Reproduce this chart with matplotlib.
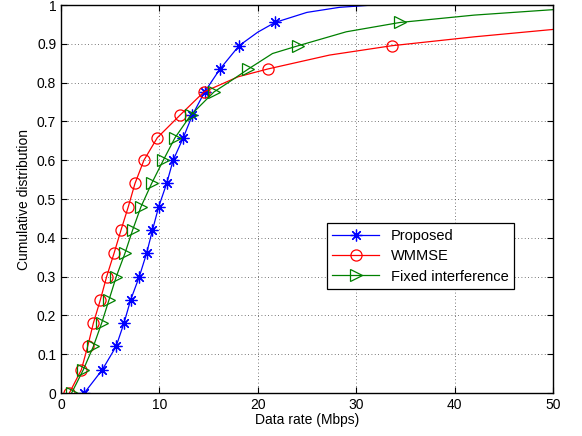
import matplotlib.pyplot as plt
import matplotlib
import numpy as np

matplotlib.rcParams['font.family'] = ['Liberation Sans', 'DejaVu Sans']
matplotlib.rcParams['font.size'] = 10

# CDF levels where markers sit
cdf_marks = [0, 0.06, 0.12, 0.18, 0.24, 0.30, 0.36, 0.42, 0.48, 0.54,
             0.60, 0.658, 0.716, 0.776, 0.835, 0.895, 0.955]

# data rate (Mbps) at each marker
prop_x = [2.37, 4.2, 5.6, 6.4, 7.08, 7.96, 8.7, 9.3, 9.93, 10.74,
          11.4, 12.43, 13.35, 14.6, 16.16, 18.1, 21.75]
wmmse_x = [0.85, 2.07, 2.71, 3.29, 4.0, 4.64, 5.39, 6.1, 6.84, 7.52,
           8.43, 9.79, 12.09, 14.53, 21.0, 33.6]
fixed_x = [1.08, 2.27, 3.29, 4.13, 4.88, 5.62, 6.5, 7.28, 8.13, 9.21,
           10.4, 11.59, 13.18, 15.55, 19.04, 24.1, 34.45]

# extra points of the curves between / after the markers
prop_tail_x = [20.0, 25.0, 28.3, 31.7]
prop_tail_y = [0.93, 0.981, 0.994, 1.0]
wmmse_tail_x = [18.0, 27.3, 42.0, 50.0]
wmmse_tail_y = [0.815, 0.871, 0.918, 0.937]
fixed_tail_x = [17.0, 21.5, 29.0, 42.0, 50.0]
fixed_tail_y = [0.80, 0.875, 0.931, 0.974, 0.988]


def merge(mx, tx, ty):
    my = cdf_marks[:len(mx)]
    pts = [(x, y, True) for x, y in zip(mx, my)] + [(x, y, False) for x, y in zip(tx, ty)]
    pts.sort(key=lambda p: p[0])
    xs = [p[0] for p in pts]
    ys = [p[1] for p in pts]
    idx = [i for i, p in enumerate(pts) if p[2]]
    return xs, ys, idx


fig, ax = plt.subplots(figsize=(5.82, 4.36), dpi=100)
fig.subplots_adjust(left=0.1048, right=0.950, bottom=0.0986, top=0.9885)

series = [
    ('Proposed', prop_x, prop_tail_x, prop_tail_y, 'b', (8, 2, 0), 8.5),
    ('WMMSE', wmmse_x, wmmse_tail_x, wmmse_tail_y, 'r', 'o', 8),
    ('Fixed interference', fixed_x, fixed_tail_x, fixed_tail_y, 'g', '>', 8),
]
for name, mx, tx, ty, col, mk, ms in series:
    xs, ys, idx = merge(mx, tx, ty)
    ax.plot(xs, ys, color=col, lw=0.9, marker=mk, markevery=idx,
            markersize=ms, markerfacecolor='none', markeredgecolor=col,
            markeredgewidth=0.9, label=name)

ax.set_xlim(0, 50)
ax.set_ylim(0, 1)
ax.set_xticks(np.arange(0, 51, 10))
ax.set_yticks(np.arange(0, 1.01, 0.1))
ax.set_yticklabels(['0', '0.1', '0.2', '0.3', '0.4', '0.5', '0.6', '0.7', '0.8', '0.9', '1'])
ax.set_xlabel('Data rate (Mbps)', labelpad=1)
ax.set_ylabel('Cumulative distribution', labelpad=4)
ax.grid(True, linestyle=(0, (1, 3)), color='k', lw=0.6, alpha=0.7)
ax.tick_params(direction='in', top=True, right=True, length=4)
for s in ax.spines.values():
    s.set_linewidth(1.0)

leg = ax.legend(loc='lower left', bbox_to_anchor=(0.54, 0.267), fancybox=False,
                edgecolor='k', framealpha=1, borderaxespad=0, handlelength=3.2,
                labelspacing=0.42, fontsize=10.5)
leg.get_frame().set_linewidth(0.9)

fig.savefig('out.png', dpi=100)
